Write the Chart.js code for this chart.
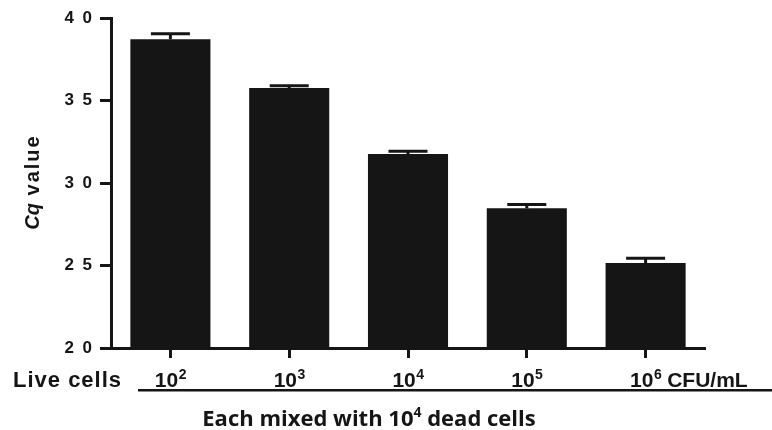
<!DOCTYPE html>
<html>
<head>
<meta charset="utf-8">
<script src="https://cdn.jsdelivr.net/npm/chart.js@4"></script>
<style>
  html, body { margin: 0; padding: 0; background: #fff; }
  #wrap { width: 772px; height: 430px; }
</style>
</head>
<body>
<div id="wrap"><canvas id="c" width="772" height="430"></canvas></div>
<script>
// data
const exponents = ['2', '3', '4', '5', '6'];
const cqValues = [38.73, 35.76, 31.76, 28.48, 25.15];
const cqErrors = [0.32, 0.14, 0.17, 0.22, 0.30];
const yTicks = [20, 25, 30, 35, 40];

const INK = '#151515';
const SANS = '"Liberation Sans", Arial, sans-serif';

// error bars (upper only) + text around the axes
const extras = {
  id: 'extras',
  afterDatasetsDraw(chart) {
    const ctx = chart.ctx;
    const x = chart.scales.x, y = chart.scales.y;
    ctx.save();
    ctx.strokeStyle = INK;
    ctx.lineWidth = 3;
    cqValues.forEach((v, i) => {
      const px = x.getPixelForValue(i);
      const top = y.getPixelForValue(v + cqErrors[i]);
      const base = y.getPixelForValue(v);
      ctx.beginPath();
      ctx.moveTo(px, base);
      ctx.lineTo(px, top);
      ctx.moveTo(px - 19.5, top);
      ctx.lineTo(px + 19.5, top);
      ctx.stroke();
    });
    ctx.restore();
  },
  afterDraw(chart) {
    const ctx = chart.ctx;
    const x = chart.scales.x;
    const area = chart.chartArea;
    ctx.save();
    ctx.fillStyle = INK;
    ctx.textBaseline = 'alphabetic';
    ctx.textAlign = 'left';

    // category labels 10^n
    const base = area.bottom + 39;
    exponents.forEach((e, i) => {
      const px = x.getPixelForValue(i);
      ctx.font = 'bold 21px ' + SANS;
      const w1 = ctx.measureText('10').width;
      ctx.font = 'bold 14px ' + SANS;
      const w2 = ctx.measureText(e).width;
      const start = px - (w1 + w2) / 2;
      ctx.font = 'bold 21px ' + SANS;
      ctx.fillText('10', start, base);
      ctx.font = 'bold 14px ' + SANS;
      ctx.fillText(e, start + w1 + 0.5, base - 8);
      if (i === exponents.length - 1) {
        ctx.font = 'bold 21px ' + SANS;
        ctx.fillText('CFU/mL', start + w1 + w2 + 6, base);
      }
    });

    // "Live cells"
    ctx.font = 'bold 22px ' + SANS;
    ctx.letterSpacing = '1px';
    ctx.fillText('Live cells', 13, base);
    ctx.letterSpacing = '0px';

    // underline
    ctx.fillRect(138, base + 2, 634, 2.5);

    // bottom title
    const ty = 426;
    const parts = [
      ['Each mixed with ', 'bold 22px "Open Sans", sans-serif', 0],
      ['10', 'bold 22px "Open Sans", sans-serif', 0],
      ['4', 'bold 14px "Open Sans", sans-serif', -9],
      [' dead cells', 'bold 22px "Open Sans", sans-serif', 0]
    ];
    let total = 0;
    parts.forEach(p => { ctx.font = p[1]; total += ctx.measureText(p[0]).width; });
    let sx = 369 - total / 2;
    parts.forEach(p => {
      ctx.font = p[1];
      ctx.fillText(p[0], sx, ty + p[2]);
      sx += ctx.measureText(p[0]).width;
    });

    // y title "Cq value"
    ctx.translate(39, 182);
    ctx.rotate(-Math.PI / 2);
    ctx.font = 'italic bold 20px ' + SANS;
    const cq = ctx.measureText('Cq').width;
    ctx.font = 'bold 20px ' + SANS;
    ctx.letterSpacing = '2px';
    const val = ctx.measureText(' value').width;
    const ox = -(cq + val) / 2;
    ctx.letterSpacing = '0px';
    ctx.font = 'italic bold 20px ' + SANS;
    ctx.fillText('Cq', ox, 0);
    ctx.letterSpacing = '2px';
    ctx.font = 'bold 20px ' + SANS;
    ctx.fillText(' value', ox + cq, 0);
    ctx.restore();
  }
};

new Chart(document.getElementById('c'), {
  type: 'bar',
  data: {
    labels: exponents.map(e => '10^' + e),
    datasets: [{
      data: cqValues,
      backgroundColor: INK,
      borderWidth: 0,
      barPercentage: 0.674,
      categoryPercentage: 1.0
    }]
  },
  options: {
    responsive: false,
    animation: false,
    layout: { padding: { left: 0, top: 18, right: 67, bottom: 0 } },
    plugins: { legend: { display: false }, tooltip: { enabled: false } },
    scales: {
      x: {
        offset: true,
        grid: {
          display: true, drawOnChartArea: false, offset: false,
          tickLength: 10, tickWidth: 3, tickColor: INK
        },
        border: { display: true, color: INK, width: 3 },
        ticks: { display: false },
        afterFit(scale) { scale.height = 82; }
      },
      y: {
        min: 20,
        max: 40,
        afterBuildTicks(scale) { scale.ticks = yTicks.map(v => ({ value: v })); },
        grid: {
          display: true, drawOnChartArea: false,
          tickLength: 11, tickWidth: 3, tickColor: INK
        },
        border: { display: true, color: INK, width: 3 },
        ticks: {
          color: INK,
          padding: 8,
          font: { family: SANS, size: 17, weight: 'bold' },
          callback: v => String(v).split('').join('\u2002')
        },
        afterFit(scale) { scale.width = 111; }
      }
    }
  },
  plugins: [extras]
});
</script>
</body>
</html>
